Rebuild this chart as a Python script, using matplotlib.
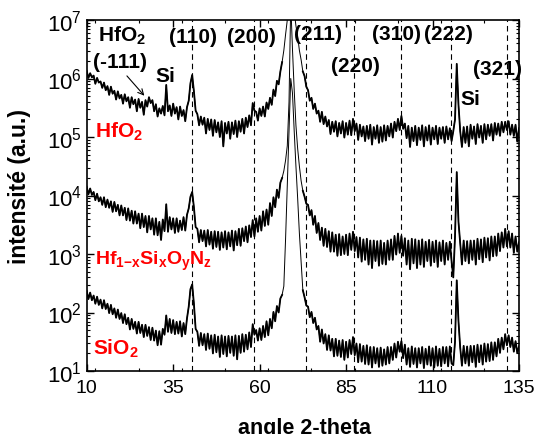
import numpy as np
import matplotlib
matplotlib.use("Agg")
import matplotlib.pyplot as plt

plt.rcParams['font.family'] = ['Liberation Sans', 'DejaVu Sans']
plt.rcParams['mathtext.fontset'] = 'custom'
plt.rcParams['mathtext.rm'] = 'Liberation Sans'
plt.rcParams['mathtext.it'] = 'Liberation Sans:italic'
plt.rcParams['mathtext.bf'] = 'Liberation Sans:bold'

# scan 10..135 deg, 0.5 deg step ; intensities as log10 values
two_theta = np.arange(10, 135.01, 0.5)

log_hfo2 = [
    6.13, 6.01, 6.09, 6.02, 6.05, 5.91, 6.01, 5.93, 5.95, 5.84,
    5.93, 5.80, 5.87, 5.72, 5.86, 5.74, 5.79, 5.64, 5.78, 5.66,
    5.72, 5.57, 5.73, 5.61, 5.68, 5.50, 5.68, 5.56, 5.64, 5.44,
    5.65, 5.50, 5.60, 5.38, 5.63, 5.52, 5.68, 5.58, 5.63, 5.44,
    5.56, 5.35, 5.49, 5.40, 5.53, 5.37, 5.89, 5.44, 5.54, 5.36,
    5.57, 5.40, 5.51, 5.30, 5.52, 5.36, 5.46, 5.27, 5.51, 5.62,
    5.92, 6.06, 5.78, 5.45, 5.39, 5.20, 5.35, 5.21, 5.33, 5.06,
    5.31, 5.12, 5.30, 5.02, 5.29, 5.08, 5.25, 5.00, 5.27, 4.84,
    5.24, 5.06, 5.26, 4.97, 5.25, 5.05, 5.28, 5.00, 5.27, 5.09,
    5.31, 5.06, 5.33, 5.17, 5.37, 5.20, 5.58, 5.45, 5.43, 5.28,
    5.49, 5.36, 5.52, 5.35, 5.59, 5.48, 5.67, 5.55, 5.81, 5.70,
    5.96, 5.90, 6.12, 6.28, 6.48, 6.75, 7.00, 7.30, 7.60, 7.45,
    7.15, 6.90, 6.72, 6.48, 6.32, 6.12, 6.04, 5.86, 5.80, 5.62,
    5.67, 5.48, 5.57, 5.40, 5.45, 5.26, 5.43, 5.22, 5.35, 5.18,
    5.29, 5.05, 5.26, 5.09, 5.27, 5.01, 5.24, 5.06, 5.27, 4.99,
    5.24, 5.04, 5.28, 5.03, 5.31, 5.10, 5.23, 4.95, 5.21, 5.01,
    5.18, 4.93, 5.19, 4.97, 5.21, 4.87, 5.17, 4.97, 5.20, 4.90,
    5.17, 4.92, 5.20, 4.94, 5.19, 5.01, 5.23, 4.99, 5.26, 5.10,
    5.31, 5.12, 5.36, 5.14, 5.23, 4.98, 5.19, 4.83, 5.16, 4.93,
    5.19, 4.86, 5.16, 4.95, 5.20, 4.84, 5.17, 4.94, 5.20, 4.87,
    5.16, 4.96, 5.19, 4.88, 5.16, 4.97, 5.17, 4.90, 5.18, 4.96,
    5.15, 4.93, 5.10, 5.30, 6.25, 5.55, 5.10, 4.83, 5.17, 4.90,
    5.18, 4.84, 5.21, 4.97, 5.18, 4.88, 5.22, 4.99, 5.19, 4.90,
    5.22, 4.96, 5.21, 5.02, 5.22, 4.94, 5.24, 5.04, 5.23, 5.02,
    5.26, 5.08, 5.26, 5.12, 5.27, 5.04, 5.21, 5.02, 5.21, 4.92,
    5.15,
]

log_hfsion = [
    4.15, 4.02, 4.12, 4.01, 4.06, 3.92, 4.03, 3.90, 3.97, 3.84,
    3.97, 3.80, 3.93, 3.79, 3.90, 3.72, 3.89, 3.73, 3.84, 3.66,
    3.83, 3.66, 3.79, 3.58, 3.78, 3.57, 3.74, 3.52, 3.73, 3.52,
    3.69, 3.44, 3.69, 3.46, 3.65, 3.37, 3.65, 3.42, 3.61, 3.33,
    3.61, 3.32, 3.55, 3.24, 3.59, 3.39, 3.85, 3.38, 3.63, 3.42,
    3.61, 3.36, 3.61, 3.38, 3.57, 3.41, 3.63, 3.40, 3.67, 3.78,
    3.98, 4.06, 3.80, 3.46, 3.43, 3.20, 3.41, 3.22, 3.40, 3.13,
    3.41, 3.16, 3.38, 3.09, 3.39, 3.12, 3.38, 3.07, 3.37, 3.11,
    3.39, 3.08, 3.37, 3.13, 3.40, 3.06, 3.39, 3.15, 3.43, 3.14,
    3.44, 3.22, 3.47, 3.20, 3.49, 3.29, 3.58, 3.30, 3.61, 3.38,
    3.65, 3.40, 3.73, 3.48, 3.76, 3.50, 3.87, 3.65, 3.97, 3.80,
    4.10, 3.96, 4.22, 4.30, 4.42, 4.60, 4.85, 5.60, 7.30, 6.50,
    5.80, 5.20, 4.80, 4.50, 4.25, 4.08, 3.98, 3.86, 3.84, 3.66,
    3.75, 3.50, 3.65, 3.36, 3.53, 3.24, 3.45, 3.14, 3.43, 3.12,
    3.39, 3.04, 3.37, 3.04, 3.33, 2.97, 3.34, 2.98, 3.30, 3.00,
    3.33, 2.98, 3.35, 3.07, 3.38, 3.05, 3.29, 2.94, 3.28, 2.87,
    3.25, 2.90, 3.26, 2.82, 3.23, 2.76, 3.23, 2.88, 3.22, 2.80,
    3.23, 2.83, 3.19, 2.82, 3.23, 2.90, 3.25, 2.90, 3.31, 2.99,
    3.35, 3.02, 3.31, 2.97, 3.27, 2.82, 3.23, 2.74, 3.26, 2.84,
    3.25, 2.76, 3.23, 2.82, 3.25, 2.78, 3.21, 2.88, 3.24, 2.80,
    3.21, 2.86, 3.23, 2.78, 3.20, 2.88, 3.23, 2.82, 3.19, 2.90,
    3.21, 2.88, 2.60, 3.30, 4.40, 3.55, 3.18, 2.82, 3.23, 2.88,
    3.22, 2.84, 3.23, 2.90, 3.23, 2.82, 3.26, 2.91, 3.25, 2.86,
    3.28, 2.94, 3.27, 2.89, 3.30, 2.96, 3.30, 2.97, 3.35, 3.05,
    3.37, 3.11, 3.43, 3.13, 3.39, 3.11, 3.35, 3.02, 3.30, 3.04,
    3.20,
]

log_sio2 = [
    2.37, 2.23, 2.34, 2.21, 2.29, 2.15, 2.27, 2.13, 2.22, 2.07,
    2.21, 2.06, 2.15, 1.99, 2.13, 1.97, 2.07, 1.91, 2.05, 1.89,
    1.99, 1.82, 1.97, 1.80, 1.91, 1.71, 1.89, 1.72, 1.84, 1.64,
    1.84, 1.65, 1.79, 1.58, 1.79, 1.60, 1.75, 1.53, 1.74, 1.52,
    1.69, 1.44, 1.68, 1.45, 1.72, 1.62, 1.95, 1.67, 1.89, 1.65,
    1.87, 1.63, 1.84, 1.64, 1.85, 1.59, 1.82, 1.63, 1.90, 2.10,
    2.40, 2.48, 2.15, 1.72, 1.67, 1.43, 1.65, 1.44, 1.63, 1.36,
    1.64, 1.38, 1.61, 1.30, 1.62, 1.32, 1.59, 1.24, 1.61, 1.29,
    1.59, 1.25, 1.60, 1.31, 1.59, 1.26, 1.61, 1.20, 1.60, 1.31,
    1.63, 1.33, 1.62, 1.37, 1.66, 1.41, 1.80, 1.62, 1.70, 1.52,
    1.73, 1.53, 1.77, 1.58, 1.85, 1.61, 1.89, 1.73, 2.01, 1.85,
    2.11, 2.00, 2.24, 2.30, 2.45, 3.25, 4.20, 5.10, 6.00, 5.75,
    5.10, 4.50, 3.95, 3.35, 2.85, 2.38, 2.26, 2.12, 2.10, 1.92,
    2.01, 1.82, 1.91, 1.71, 1.77, 1.50, 1.71, 1.47, 1.63, 1.36,
    1.61, 1.35, 1.55, 1.25, 1.55, 1.26, 1.52, 1.24, 1.53, 1.19,
    1.50, 1.23, 1.53, 1.29, 1.58, 1.27, 1.47, 1.15, 1.46, 1.16,
    1.43, 1.12, 1.44, 1.11, 1.41, 1.06, 1.41, 1.13, 1.39, 1.07,
    1.40, 1.09, 1.37, 1.11, 1.41, 1.13, 1.41, 1.19, 1.47, 1.23,
    1.50, 1.33, 1.51, 1.22, 1.45, 1.11, 1.39, 1.07, 1.42, 1.12,
    1.39, 1.06, 1.39, 1.13, 1.41, 1.05, 1.38, 1.11, 1.42, 1.09,
    1.39, 1.06, 1.42, 1.09, 1.38, 1.08, 1.41, 1.13, 1.41, 1.08,
    1.42, 1.13, 1.10, 1.50, 2.55, 1.85, 1.40, 1.09, 1.43, 1.13,
    1.42, 1.09, 1.43, 1.15, 1.43, 1.07, 1.45, 1.15, 1.44, 1.11,
    1.47, 1.16, 1.46, 1.17, 1.49, 1.19, 1.49, 1.25, 1.55, 1.31,
    1.57, 1.37, 1.63, 1.44, 1.61, 1.41, 1.57, 1.33, 1.51, 1.31,
    1.42,
]

# HfO2 reflections (dashed lines)
hkl_pos = [40.4, 58.3, 73.5, 87.2, 101.0, 115.3, 131.6]

fig = plt.figure(figsize=(5.39, 4.35), dpi=100)
ax = fig.add_axes([86.7 / 539, 63 / 435, 432.3 / 539, 351 / 435])

for p in hkl_pos:
    ax.axvline(p, color='black', lw=0.8, ls=(0, (5, 3.5)))

# thin line everywhere (sharp Si(400) peak), heavier line on the noisy background
noisy = (two_theta < 66.6) | (two_theta > 72.4)
for vals in [log_hfo2, log_hfsion, log_sio2]:
    y = 10 ** np.array(vals)
    ax.plot(two_theta, y, color='black', lw=0.7)
    ax.plot(two_theta, np.ma.masked_where(~noisy, y), color='black', lw=1.3)

ax.set_yscale('log')
ax.set_xlim(10, 135)
ax.set_ylim(10, 1e7)
ax.set_xticks([10, 35, 60, 85, 110, 135])
ax.xaxis.set_minor_locator(matplotlib.ticker.MultipleLocator(12.5))
ax.tick_params(which='both', direction='in', top=True, right=True)
ax.tick_params(axis='x', labelsize=14, pad=6)
ax.tick_params(axis='y', labelsize=16)
ax.tick_params(which='major', length=5, width=1)
ax.tick_params(which='minor', length=2.5, width=0.8)
for s in ax.spines.values():
    s.set_linewidth(1.2)

fs = 15
bold = dict(fontsize=fs, fontweight='bold', va='baseline')
ax.text(13.3, 10 ** 6.64, r'$\mathbf{HfO_2}$', ha='left', **bold)
ax.text(11.9, 10 ** 6.20, '(-111)', ha='left', **bold)
ax.text(30.0, 10 ** 5.96, 'Si', ha='left', **bold)
ax.annotate('', xy=(27.2, 10 ** 5.67), xytext=(21.1, 10 ** 6.08),
            arrowprops=dict(arrowstyle='->', color='black', lw=0.8))
ax.text(40.6, 10 ** 6.62, '(110)', ha='center', **bold)
ax.text(57.7, 10 ** 6.62, '(200)', ha='center', **bold)
ax.text(77.0, 10 ** 6.675, '(211)', ha='center', **bold)
ax.text(87.8, 10 ** 6.13, '(220)', ha='center', **bold)
ax.text(99.6, 10 ** 6.675, '(310)', ha='center', **bold)
ax.text(114.6, 10 ** 6.675, '(222)', ha='center', **bold)
ax.text(128.7, 10 ** 6.08, '(321)', ha='center', **bold)
ax.text(118.0, 10 ** 5.56, 'Si', ha='left', **bold)

red = dict(color='#ff0000', va='baseline', ha='left')
ax.text(12.4, 10 ** 5.0, r'$\mathbf{HfO_2}$', fontsize=15, **red)
ax.text(12.4, 10 ** 2.83, r'$\mathbf{Hf_{1\mathbf{-}x}Si_xO_yN_z}$', fontsize=14, **red)
ax.text(11.9, 10 ** 1.29, r'$\mathbf{SiO_2}$', fontsize=15, **red)

fig.text(20 / 539, 1 - 186 / 435, 'intensité (a.u.)', rotation=90,
         ha='center', va='center', fontsize=16.5, fontweight='bold')
fig.text(305 / 539, 1 / 435, 'angle 2-theta', ha='center', va='baseline',
         fontsize=15.5, fontweight='bold')

fig.savefig('out.png', dpi=100)
